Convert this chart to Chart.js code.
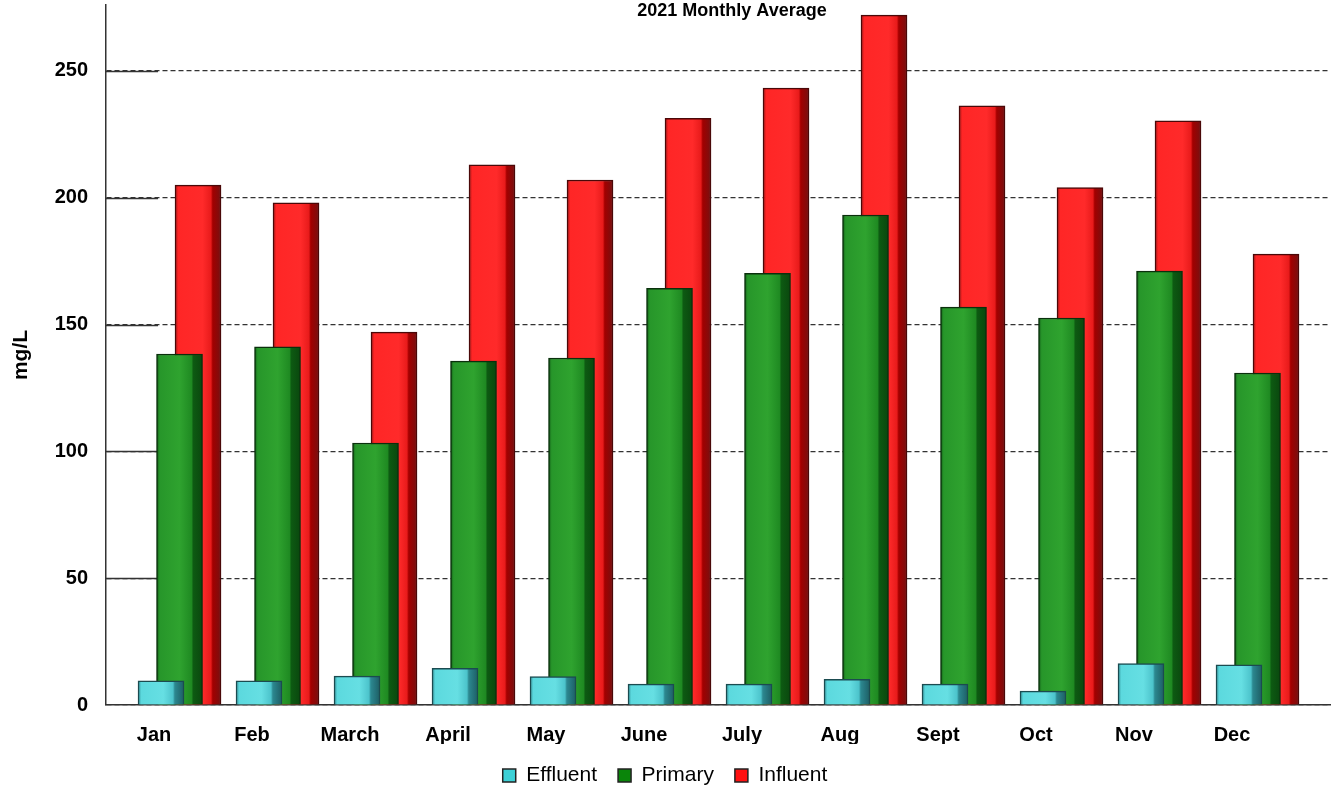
<!DOCTYPE html>
<html><head><meta charset="utf-8">
<script src="https://cdn.jsdelivr.net/npm/chart.js@4.4.1/dist/chart.umd.min.js"></script>
<style>html,body{margin:0;padding:0;background:#fff;overflow:hidden}canvas{display:block}</style>
</head><body>
<canvas id="c" width="1340" height="793"></canvas>
<script>
// ---- data ----
const titleText = '2021 Monthly Average';
const yTitle = 'mg/L';
const categories = ['Jan','Feb','March','April','May','June','July','Aug','Sept','Oct','Nov','Dec'];
const effluent = [9.5, 9.5, 11.4, 14.5, 11.2, 8.2, 8.2, 10.1, 8.2, 5.5, 16.3, 15.8];
const primary  = [138.4, 141.2, 103.3, 135.6, 136.8, 164.3, 170.2, 193.2, 156.9, 152.6, 171.1, 130.9];
const influent = [205, 198, 147, 213, 207, 231.3, 243.2, 272, 236.2, 204, 230.3, 177.8];
const yTicks = [0, 50, 100, 150, 200, 250];

// ---- styles ----
const FONT = '"Liberation Sans", Arial, Helvetica, sans-serif';
const BAR_W = 46;
const X_MIN = -0.49, X_MAX = 12.0, UNIT_PX = 98;
const shifts = {xE: 7, xP: 25.5, xI: 44};
const cyanStops  = [[0,'#2f8f96'],[0.07,'#5cd9de'],[0.55,'#66dfe3'],[0.76,'#4cc3cb'],[0.8,'#2c8890'],[1,'#1d5d64']];
const greenStops = [[0,'#145f18'],[0.07,'#27962a'],[0.5,'#2fa32f'],[0.76,'#1f8a22'],[0.8,'#0d5a12'],[1,'#0a470e']];
const redStops   = [[0,'#a81212'],[0.07,'#ff2626'],[0.6,'#ff2a2a'],[0.78,'#e81b1b'],[0.82,'#a30000'],[1,'#761010']];
const legendColors = ['#3cd0d6', '#0a850a', '#ff1010'];

function grad(c, axisId, stops) {
  const chart = c.chart, sc = chart.scales[axisId];
  if (!sc || c.dataIndex === undefined) return stops[2][1];
  const cx = sc.getPixelForValue(c.dataIndex);
  if (!isFinite(cx)) return stops[2][1];
  const g = chart.ctx.createLinearGradient(cx - BAR_W / 2, 0, cx + BAR_W / 2, 0);
  stops.forEach(s => g.addColorStop(s[0], s[1]));
  return g;
}
const toXY = arr => arr.map((v, i) => ({x: i, y: v}));
const hiddenX = id => ({type: 'linear', display: false, offset: false, bounds: 'data',
  min: X_MIN - shifts[id] / UNIT_PX, max: X_MAX - shifts[id] / UNIT_PX});

const gridSolid = {
  id: 'gridSolid',
  beforeDatasetsDraw(chart) {
    const {ctx, chartArea, scales: {y}} = chart;
    ctx.save();
    ctx.strokeStyle = '#333'; ctx.lineWidth = 1.5;
    yTicks.forEach(v => {
      if (v === 0) return;
      const py = Math.round(y.getPixelForValue(v)) + 0.5;
      ctx.beginPath(); ctx.moveTo(chartArea.left, py); ctx.lineTo(chartArea.left + 52, py); ctx.stroke();
    });
    ctx.restore();
  }
};
const topTitle = {
  id: 'topTitle',
  afterDraw(chart) {
    const ctx = chart.ctx;
    ctx.save();
    ctx.font = 'bold 18px ' + FONT;
    ctx.fillStyle = '#000'; ctx.textAlign = 'center'; ctx.textBaseline = 'middle';
    ctx.fillText(titleText, chart.chartArea.left + 626, 11);
    ctx.restore();
  }
};

new Chart(document.getElementById('c'), {
  type: 'bar',
  data: {
    datasets: [
      {label: 'Effluent', data: toXY(effluent), xAxisID: 'xE', yAxisID: 'y', order: 1, barThickness: BAR_W, grouped: false,
       backgroundColor: c => grad(c, 'xE', cyanStops), borderColor: '#1b4b50', borderWidth: 1.5},
      {label: 'Primary', data: toXY(primary), xAxisID: 'xP', yAxisID: 'y', order: 2, barThickness: BAR_W, grouped: false,
       backgroundColor: c => grad(c, 'xP', greenStops), borderColor: '#0a300c', borderWidth: 1.5},
      {label: 'Influent', data: toXY(influent), xAxisID: 'xI', yAxisID: 'y', order: 3, barThickness: BAR_W, grouped: false,
       backgroundColor: c => grad(c, 'xI', redStops), borderColor: '#4a0808', borderWidth: 1.5}
    ]
  },
  options: {
    responsive: false, animation: false,
    layout: {padding: {top: 5, right: 10, left: 0, bottom: -3}},
    plugins: {
      title: {display: false},
      tooltip: {enabled: false},
      legend: {
        position: 'bottom',
        labels: {
          color: '#000', font: {family: FONT, size: 21}, boxWidth: 13, boxHeight: 13, padding: 21,
          generateLabels: chart => chart.data.datasets.map((ds, i) => ({
            text: ds.label, fillStyle: legendColors[i], strokeStyle: '#222', lineWidth: 1.5, hidden: false, datasetIndex: i
          }))
        }
      }
    },
    scales: {
      x: {
        type: 'linear', position: 'bottom', min: X_MIN, max: X_MAX, offset: false, bounds: 'data',
        afterBuildTicks: ax => { ax.ticks = categories.map((c, i) => ({value: i})); },
        grid: {display: false, drawTicks: false},
        border: {display: true, color: '#333', width: 1.5},
        ticks: {padding: 18, color: '#000', autoSkip: false, maxRotation: 0,
                font: {family: FONT, size: 20, weight: 'bold'}, callback: v => categories[v] ?? ''},
        afterFit: ax => { ax.height = 39; ax.paddingLeft = 0; ax.paddingRight = 0; }
      },
      xE: hiddenX('xE'),
      xP: hiddenX('xP'),
      xI: hiddenX('xI'),
      y: {
        position: 'left', min: 0, max: 276, bounds: 'data',
        afterBuildTicks: ax => { ax.ticks = yTicks.map(v => ({value: v})); },
        grid: {color: '#333', lineWidth: 1.2, drawTicks: false},
        border: {display: true, color: '#333', width: 1.5, dash: [5, 3]},
        ticks: {padding: 18, color: '#000', font: {family: FONT, size: 20, weight: 'bold'}},
        title: {display: true, text: yTitle, color: '#000', padding: {top: 9, bottom: 0},
                font: {family: FONT, size: 21, weight: 'bold'}},
        afterFit: ax => { ax.width = 106; ax.paddingTop = 0; ax.paddingBottom = 0; }
      }
    }
  },
  plugins: [gridSolid, topTitle]
});
</script>
</body></html>
